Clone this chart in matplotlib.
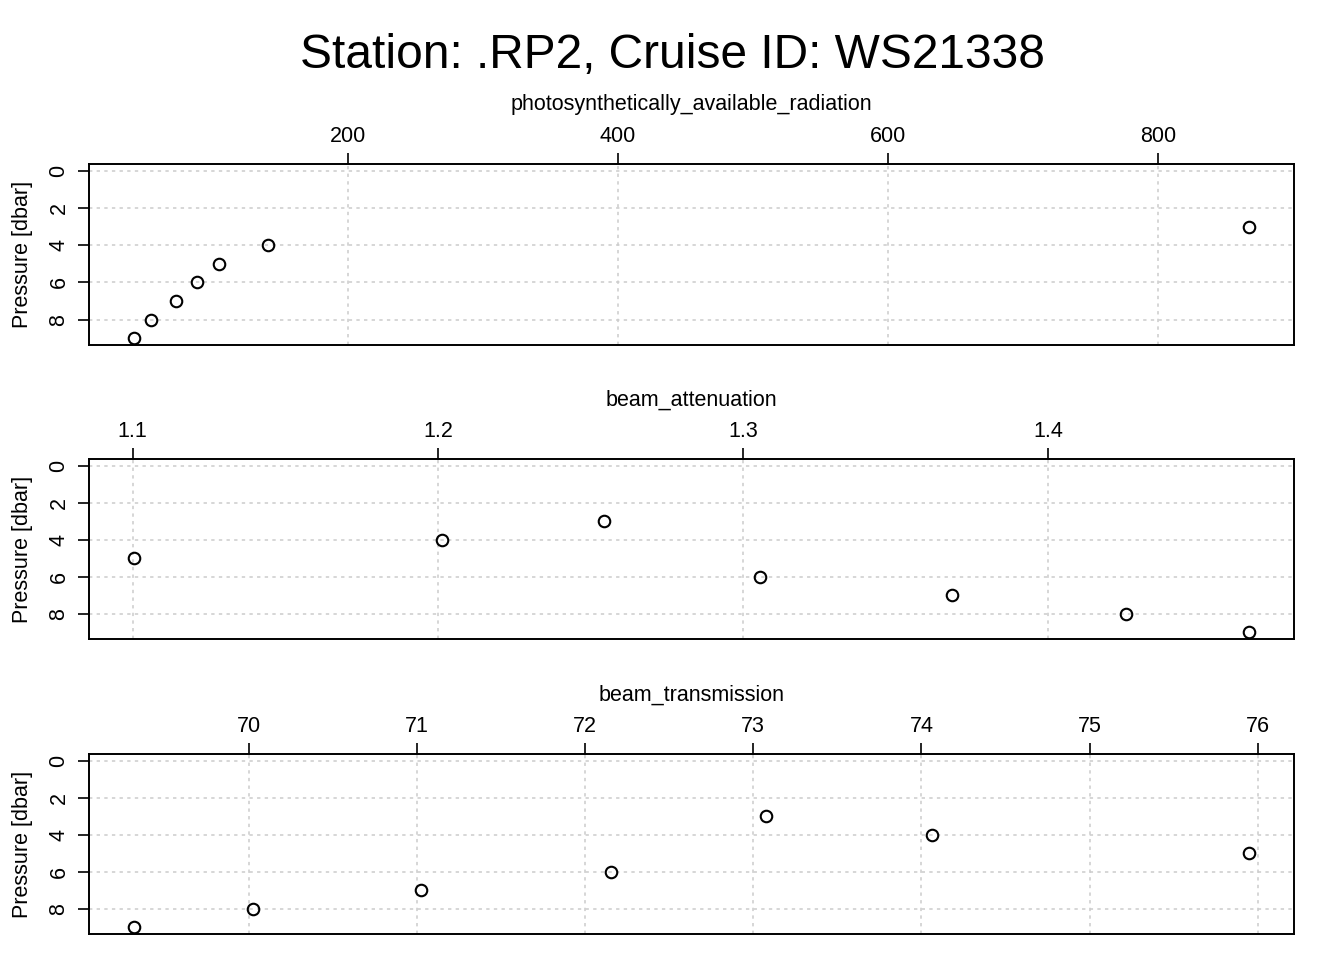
import matplotlib
matplotlib.use("Agg")
import matplotlib.pyplot as plt
import numpy as np

plt.rcParams['font.family'] = ['Liberation Sans', 'DejaVu Sans']

title = "Station: .RP2, Cruise ID: WS21338"
pressure = [3, 4, 5, 6, 7, 8, 9]
par = [867.4, 140.7, 104.4, 88.1, 72.6, 54.1, 41.5]
beam_att = [1.2544, 1.2013, 1.1003, 1.3056, 1.3685, 1.4256, 1.4659]
beam_trans = [73.077, 74.06, 75.95, 72.155, 71.024, 70.024, 69.315]

panels = [
    ("photosynthetically_available_radiation", par, [200, 400, 600, 800], ["200", "400", "600", "800"]),
    ("beam_attenuation", beam_att, [1.1, 1.2, 1.3, 1.4], ["1.1", "1.2", "1.3", "1.4"]),
    ("beam_transmission", beam_trans, [70, 71, 72, 73, 74, 75, 76], ["70", "71", "72", "73", "74", "75", "76"]),
]
yticks = [0, 2, 4, 6, 8]

fig = plt.figure(figsize=(13.44, 9.6), dpi=100)
W, H = 1344, 960
left, right = 89, 1294
tops = [164, 459, 754]
bottoms = [345, 639, 934]

for (name, xs, xt, xtl), top, bot in zip(panels, tops, bottoms):
    ax = fig.add_axes([left / W, 1 - bot / H, (right - left) / W, (bot - top) / H])
    xmin, xmax = min(xs), max(xs)
    pad = 0.04 * (xmax - xmin)
    ax.set_xlim(xmin - pad, xmax + pad)
    ax.set_ylim(9 + 0.36, -0.36)
    for v in xt:
        ax.axvline(v, color='#cccccc', lw=1.1, dashes=(2.2, 2.8), zorder=1)
    for v in yticks:
        ax.axhline(v, color='#cccccc', lw=1.1, dashes=(2.2, 2.8), zorder=1)
    ax.plot(xs, pressure, linestyle='none', marker='o', ms=8.3, mfc='none',
            mec='black', mew=1.5, zorder=3)
    ax.xaxis.tick_top()
    ax.xaxis.set_label_position('top')
    ax.set_xticks(xt)
    ax.set_xticklabels(xtl)
    ax.set_yticks(yticks)
    ax.set_yticklabels([str(v) for v in yticks], rotation=90, va='center')
    ax.tick_params(axis='both', direction='out', length=8, width=1.2,
                   labelsize=15.5, color='black')
    ax.tick_params(axis='x', pad=4.3)
    ax.tick_params(axis='y', pad=6.0)
    ax.set_xlabel(name, fontsize=15.5, labelpad=11.3)
    ax.set_ylabel("Pressure [dbar]", fontsize=15.5, labelpad=11.0)
    for s in ax.spines.values():
        s.set_linewidth(1.4)
        s.set_color('black')

fig.text(0.5, 1 - 56 / H, title, ha='center', va='center', fontsize=34.5)
fig.savefig("out.png", dpi=100)
